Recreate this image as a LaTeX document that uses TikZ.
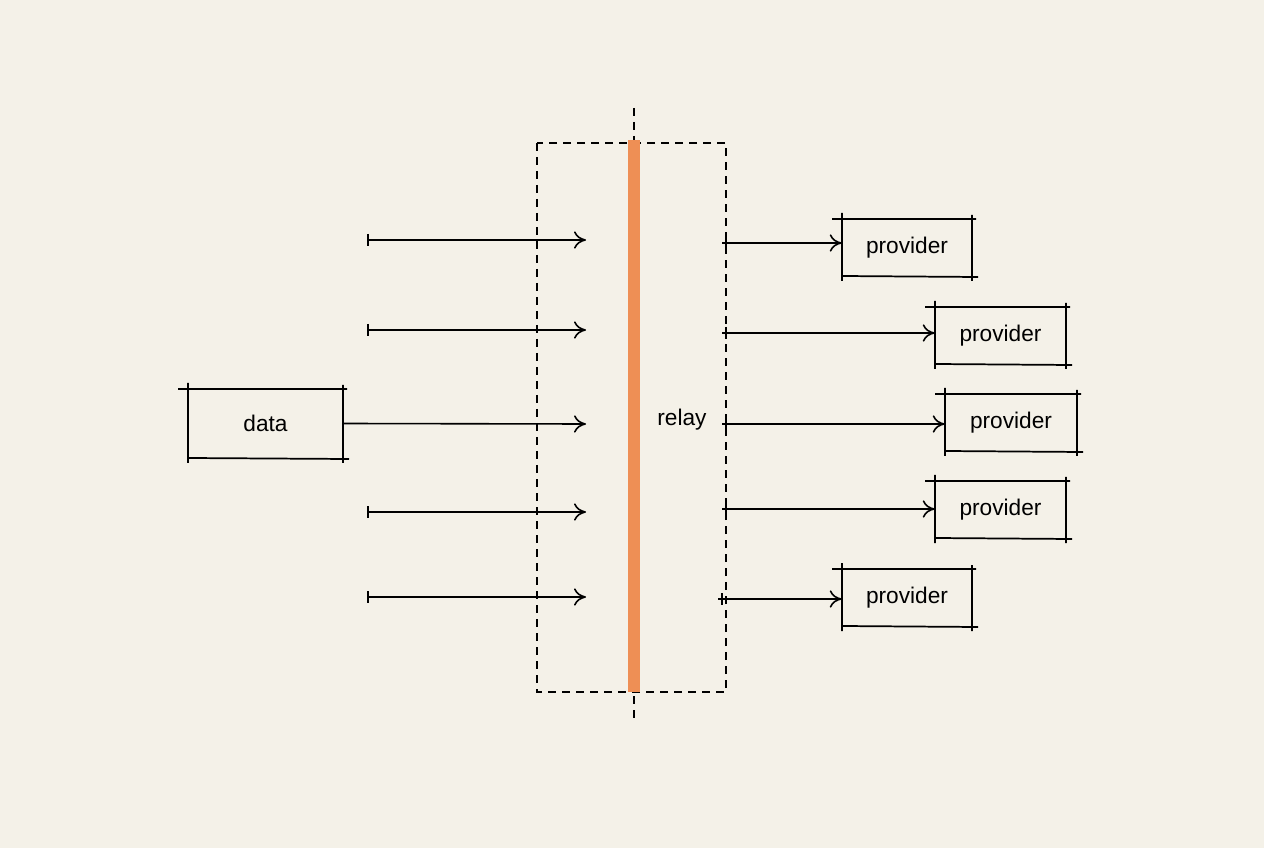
\documentclass[tikz,border=0pt]{standalone}
\usepackage{fontspec}
\setmainfont{Liberation Sans}
\usetikzlibrary{arrows.meta}
\definecolor{paper}{HTML}{F4F1E8}
\definecolor{bar}{HTML}{EE8F55}
\begin{document}
\begin{tikzpicture}[x=0.75pt,y=-0.75pt,
  arr/.style={line width=1.2pt,-{To[length=9pt,width=13pt,line width=1.2pt]}},
  box/.style={draw=none,minimum width=#1,minimum height=57*0.75pt,font=\fontsize{17}{19}\selectfont,inner sep=0pt},
  edge/.style={line width=1.3pt},
  dsh/.style={line width=1.2pt,dash pattern=on 6pt off 4.5pt}]
\fill[paper] (0,0) rectangle (1264,848);
\useasboundingbox (0,0) rectangle (1264,848);
\newcommand{\skbox}[5]{% name, x1,y1,x2,y2
  \draw[edge] (#2-10,#3) -- (#4+4,#3) (#2,#5) -- (#4+6,#5+1)
              (#2,#3-6) -- (#2,#5+5) (#4,#3-4) -- (#4,#5+5);}
\draw[dsh] (537,143) rectangle (726,692);
\draw[dsh] (634,108) -- (634,722);
\fill[bar] (628,140) rectangle (640,692);
\node[box=155*0.75pt] (data) at (265.5,423.5) {data};
\skbox{data}{188}{389}{343}{458}
\node[font=\fontsize{17}{19}\selectfont] (relay) at (682,420) {relay};
\foreach \y/\n in {240/a,330/b,512/d,597/e}{
  \coordinate (s\n) at (368,\y); \coordinate (t\n) at (586,\y);
  \draw[arr] (s\n) -- (t\n);
  \draw[line width=1pt] (368,\y-6) -- (368,\y+6);}
\coordinate (tc) at (586,424);
\draw[arr] (data.east) -- (tc);
\foreach \i/\xa/\ya/\xb/\yb/\ys/\xs in {1/842/219/972/276/243/722,2/935/307/1066/364/333/722,3/945/394/1077/451/424/722,4/935/481/1066/538/509/722,5/842/569/972/626/599/718}{
  \node[box=(\xb-\xa)*0.75pt] (p\i) at ({(\xa+\xb)/2},{(\ya+\yb)/2}) {provider};
  \skbox{p\i}{\xa}{\ya}{\xb}{\yb}
  \coordinate (r\i) at (\xs,\ys);
  \draw[arr] (r\i) -- (p\i.west |- r\i);
  \draw[line width=1pt] (\xs+4,\ys-6) -- (\xs+4,\ys+6);
}
\end{tikzpicture}
\end{document}
